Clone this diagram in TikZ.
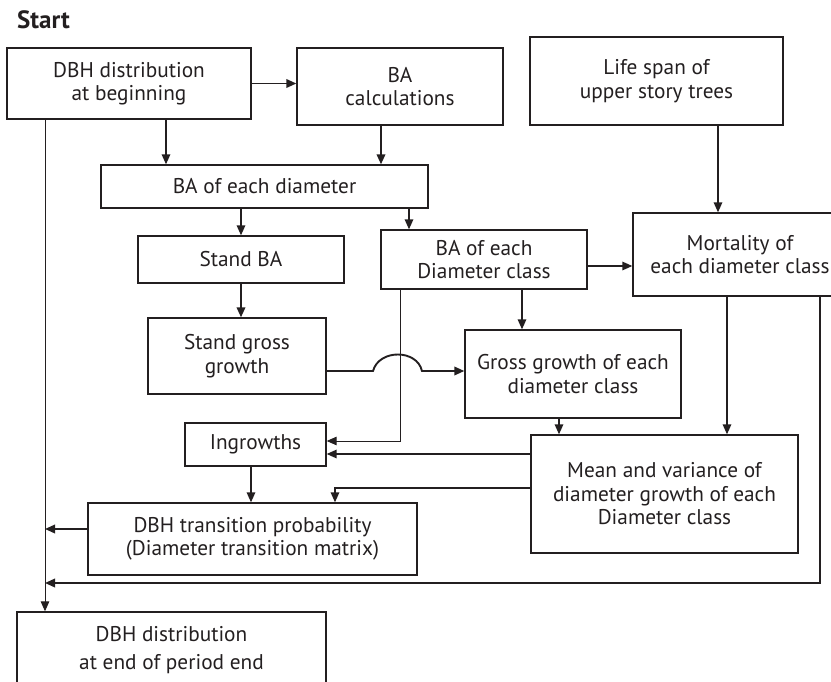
\documentclass[tikz,border=0pt]{standalone}
\usepackage{fontspec}
\setmainfont{PT Sans}
\usetikzlibrary{arrows.meta}
\definecolor{ink}{HTML}{231F20}
\begin{document}
\begin{tikzpicture}[x=1pt,y=-1pt,
  box/.style={draw=ink,line width=1.3pt,rectangle,inner sep=0pt,align=center,
    text=ink,font=\fontsize{21.3}{23.5}\selectfont},
  arr/.style={draw=ink,line width=1.4pt,-{Triangle[length=10pt,width=8.5pt]}},
  thin/.style={line width=1pt},
  thick2/.style={line width=1.9pt}]
\useasboundingbox (0,0) rectangle (831,682);
\clip (0,0) rectangle (831,682);
\node[anchor=base west,text=ink,inner sep=0pt,font=\fontsize{25}{28}\selectfont\bfseries] (start) at (17,29) {Start};
\node[box,minimum width=244pt,minimum height=71pt] (beg) at (129,83.5) {DBH distribution\\at beginning};
\node[box,minimum width=206pt,minimum height=77pt] (calc) at (400,86.5) {BA\\calculations};
\node[box,minimum width=253pt,minimum height=88pt] (life) at (656.5,81) {Life span of\\upper story trees};
\node[box,minimum width=327pt,minimum height=43pt] (bad) at (264.5,186.5) {BA of each diameter};
\node[box,minimum width=206pt,minimum height=47pt] (sba) at (241,259.5) {Stand BA};
\node[box,minimum width=206pt,minimum height=59pt] (bac) at (484,259.5) {BA of each\\Diameter class};
\node[box,minimum width=214pt,minimum height=83pt] (mort) at (740,254.5) {Mortality of\\each diameter class};
\node[box,minimum width=178pt,minimum height=76pt] (sgg) at (237,356) {Stand gross\\growth};
\node[box,minimum width=216pt,minimum height=88pt] (gg) at (573,374) {Gross growth of each\\diameter class};
\node[box,minimum width=141pt,minimum height=43pt] (ing) at (255.5,444.5) {Ingrowths};
\node[box,minimum width=267pt,minimum height=118pt] (mv) at (664.5,494) {Mean and variance of\\diameter growth of each\\Diameter class};
\node[box,minimum width=329pt,minimum height=72pt] (tp) at (252.5,539) {DBH transition probability\\(Diameter transition matrix)};
\node[box,minimum width=309pt,minimum height=76pt] (end) at (171.5,650) {DBH distribution\\[5pt]at end of period end};
\coordinate (hop) at (400,371);
\coordinate (j2) at (45,583);
% connectors
\draw[arr,thick2] (beg.east) -- (beg.east -| calc.west);
\draw[arr] ([xshift=37pt]beg.south) -- ([xshift=37pt]beg.south |- bad.north);
\draw[arr,thick2] ([xshift=-19pt]calc.south) -- ([xshift=-19pt]calc.south |- bad.north);
\draw[arr] (sba.north |- bad.south) -- (sba.north);
\draw[arr] ([xshift=-75pt]bac.north |- bad.south) -- ([xshift=-75pt]bac.north);
\draw[arr] ([xshift=61.5pt]life.south) -- ([xshift=61.5pt]life.south |- mort.north);
\draw[arr] ([yshift=-6.5pt]bac.east) -- ([yshift=-6.5pt]bac.east -| mort.west);
\draw[arr] ([xshift=38pt]bac.south) -- ([xshift=38pt]bac.south |- gg.north);
\draw[arr,thick2] (sba.south) -- (sba.south |- sgg.north);
\draw[arr,thick2] (sgg.east |- hop) -- ([xshift=-27pt]hop) .. controls ([shift={(-21,-22)}]hop) and ([shift={(17,-22)}]hop) .. ([xshift=22pt]hop) -- (gg.west |- hop);
\draw[arr,thin] ([xshift=-84pt]bac.south) |- ([yshift=3.5pt]ing.east);
\draw[arr] ([yshift=40pt]mv.west) -- ([yshift=40pt]mv.west -| ing.east);
\draw[arr] ([yshift=6pt]mv.west) -| ([xshift=82.5pt]tp.north);
\draw[arr] ([xshift=-14pt]gg.south) -- ([xshift=-14pt]gg.south |- mv.north);
\draw[arr] ([xshift=-13pt]mort.south) -- ([xshift=-13pt]mort.south |- mv.north);
\draw[arr,thick2] ([xshift=80pt]mort.south) |- (j2);
\draw[arr] ([xshift=-4.5pt]ing.south) -- ([xshift=-4.5pt]ing.south |- tp.north);
\draw[arr,thick2] ([yshift=10pt]tp.west) -- ([yshift=10pt]tp.west -| j2);
\draw[arr,thin] ([xshift=-84pt]beg.south) -- ([xshift=-84pt]beg.south |- end.north);
\end{tikzpicture}
\end{document}
